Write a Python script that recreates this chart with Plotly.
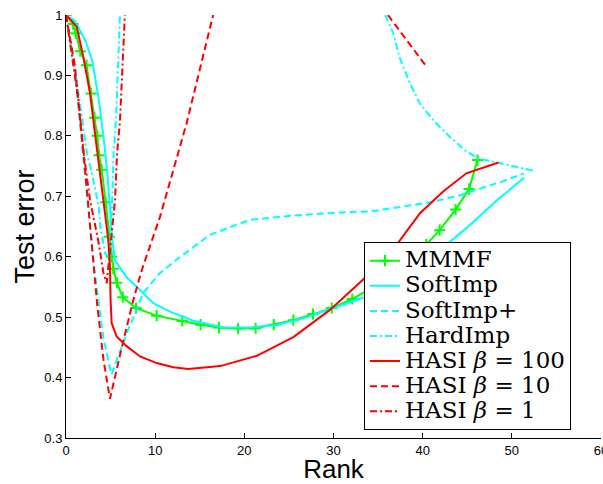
import plotly.graph_objects as go

# ---- data ----
mmmf_x = [0, 0.8, 1.1, 1.6, 2.3, 2.8, 3.2, 3.5, 3.7, 4.0, 4.45, 4.85, 5.1, 5.3, 5.7, 6.36, 7.85,
          10.17, 13.04, 15.1, 17.15, 19.3, 21.27, 23.3, 25.5, 27.7, 29.8, 32.1, 34.5, 37.0,
          38.8, 40.4, 41.9, 43.7, 45.2, 46.15]
mmmf_y = [1.0, 0.985, 0.97, 0.94, 0.917, 0.87, 0.83, 0.80, 0.768, 0.744, 0.69, 0.633, 0.60, 0.58,
          0.557, 0.533, 0.515, 0.5025, 0.4937, 0.4876, 0.483, 0.481, 0.4816, 0.4876, 0.495, 0.505,
          0.515, 0.530, 0.55, 0.58, 0.60, 0.62, 0.644, 0.678, 0.712, 0.76]

softimp_x = [0, 1.0, 2.2, 2.95, 3.7, 4.27, 4.64, 5.0, 5.2, 5.5, 6.8, 8.3, 9.8, 11.66, 14.27, 17.6,
             20.6, 23.6, 26.6, 29.6, 33.3, 36.5, 39.5, 42.7, 45.5, 48.3, 51.4]
softimp_y = [1.0, 0.99, 0.957, 0.924, 0.858, 0.791, 0.737, 0.672, 0.627, 0.594, 0.566, 0.545,
             0.523, 0.509, 0.494, 0.483, 0.483, 0.487, 0.498, 0.513, 0.532, 0.56, 0.59, 0.62,
             0.655, 0.693, 0.731]

softimpp_x = [0, 1.0, 2.1, 3.1, 3.67, 4.2, 5.1, 6.8, 8.67, 10.54, 12.4, 16.1, 20.6, 26.2, 31.8,
              34.1, 37.8, 40.8, 43.8, 46.8, 49.0, 51.4]
softimpp_y = [1.0, 0.905, 0.74, 0.59, 0.523, 0.465, 0.405, 0.473, 0.54, 0.573, 0.595, 0.636,
              0.661, 0.669, 0.674, 0.675, 0.683, 0.69, 0.70, 0.714, 0.725, 0.738]

hardimp_x = [0, 0.9, 1.6, 2.35, 2.9, 3.3, 3.67, 3.85, 4.04, 4.4, 4.75, 5.16, 5.34, 5.6, 6.05,
             None, 35.8, 36.7, 37.4, 38.6, 39.7, 41.2, 43.0, 44.9, 46.2, 49.4, 52.5]
hardimp_y = [1.0, 0.92, 0.85, 0.771, 0.738, 0.71, 0.683, 0.65, 0.633, 0.605, 0.60, 0.683, 0.771,
             0.824, 1.0, None, 1.0, 0.97, 0.93, 0.886, 0.853, 0.826, 0.799, 0.774, 0.763,
             0.752, 0.742]

hasi100_x = [0, 1.2, 1.94, 2.69, 3.25, 3.81, 4.37, 4.74, 4.93, 5.0, 5.12, 5.68, 6.8, 8.3, 10.17,
             12.03, 13.7, 17.3, 21.4, 25.5, 29.6, 33.3, 35.0, 37.1, 39.7, 42.3, 44.9, 48.5]
hasi100_y = [1.0, 0.981, 0.931, 0.871, 0.804, 0.733, 0.672, 0.628, 0.584, 0.529, 0.49, 0.468,
             0.452, 0.435, 0.424, 0.417, 0.414, 0.419, 0.436, 0.467, 0.512, 0.562, 0.59, 0.62,
             0.672, 0.708, 0.738, 0.756]

hasi10_x = [0, 1.0, 2.1, 3.06, 3.5, 4.2, 4.93, 6.1, 7.54, 8.5, 10.54, 13.53, 16.5,
            None, 36.1, 40.4]
hasi10_y = [1.0, 0.916, 0.75, 0.584, 0.52, 0.43, 0.365, 0.44, 0.528, 0.578, 0.666, 0.821, 1.0,
            None, 1.0, 0.915]

hasi1_x = [0, 0.6, 1.38, 2.0, 2.69, 3.6, 4.2, 4.56, 5.0, 5.5, 5.72, 6.05, 6.6]
hasi1_y = [1.0, 0.94, 0.86, 0.77, 0.694, 0.628, 0.573, 0.556, 0.62, 0.694, 0.769, 0.824, 1.0]

x_ticks = [0, 10, 20, 30, 40, 50, 60]
y_ticks = [0.3, 0.4, 0.5, 0.6, 0.7, 0.8, 0.9, 1.0]
y_tick_text = ["0.3", "0.4", "0.5", "0.6", "0.7", "0.8", "0.9", "1"]

series_names = ["MMMF", "SoftImp", "SoftImp+", "HardImp",
                "HASI <i>β</i> = 100", "HASI <i>β</i> = 10", "HASI <i>β</i> = 1"]

GREEN = "#00ff00"
CYAN = "#00ffff"
RED = "#ff0000"
DASH = "7px,4px"
DASHDOT = "7px,3px,2px,3px"


def big(label):
    return f'<span style="font-size:23px">{label}</span>'


fig = go.Figure()
fig.add_trace(go.Scatter(x=mmmf_x, y=mmmf_y, name=big(series_names[0]), mode="lines+markers",
                         line=dict(color=GREEN, width=2),
                         marker=dict(symbol="cross-thin", size=8,
                                     line=dict(color=GREEN, width=2), color=GREEN)))
fig.add_trace(go.Scatter(x=softimp_x, y=softimp_y, name=big(series_names[1]), mode="lines",
                         line=dict(color=CYAN, width=2)))
fig.add_trace(go.Scatter(x=softimpp_x, y=softimpp_y, name=big(series_names[2]), mode="lines",
                         line=dict(color=CYAN, width=2, dash=DASH)))
fig.add_trace(go.Scatter(x=hardimp_x, y=hardimp_y, name=big(series_names[3]), mode="lines",
                         line=dict(color=CYAN, width=2, dash=DASHDOT)))
fig.add_trace(go.Scatter(x=hasi100_x, y=hasi100_y, name=big(series_names[4]),
                         mode="lines", line=dict(color=RED, width=2)))
fig.add_trace(go.Scatter(x=hasi10_x, y=hasi10_y, name=big(series_names[5]),
                         mode="lines", line=dict(color=RED, width=2, dash=DASH)))
fig.add_trace(go.Scatter(x=hasi1_x, y=hasi1_y, name=big(series_names[6]),
                         mode="lines", line=dict(color=RED, width=2, dash=DASHDOT)))

SANS = "Liberation Sans, Arial, sans-serif"
axis_common = dict(showgrid=False, zeroline=False, showline=True, linecolor="black",
                   linewidth=1, ticks="inside", ticklen=5, tickcolor="black",
                   automargin=False, ticklabeloverflow="allow",
                   tickfont=dict(family=SANS, size=13, color="black"))

fig.update_layout(
    width=603, height=484,
    margin=dict(l=66, r=2, t=15, b=46),
    paper_bgcolor="white", plot_bgcolor="white",
    xaxis=dict(range=[0, 60], tickvals=x_ticks, ticktext=[str(v) for v in x_ticks],
               title=dict(text="Rank", standoff=6,
                          font=dict(family=SANS, size=26, color="black")),
               **axis_common),
    yaxis=dict(range=[0.3, 1.0], tickvals=y_ticks, ticktext=y_tick_text,
               title=dict(text="Test error", standoff=1,
                          font=dict(family=SANS, size=27, color="black")),
               **axis_common),
    legend=dict(x=0.557, y=0.463, xanchor="left", yanchor="top",
                bgcolor="white", bordercolor="black", borderwidth=1,
                font=dict(family="DejaVu Serif, serif", size=17, color="black"),
                tracegroupgap=0, itemwidth=30),
    showlegend=True,
)

fig.write_html("out.html", config={"displayModeBar": False},
               post_script="document.body.style.margin='0';")
